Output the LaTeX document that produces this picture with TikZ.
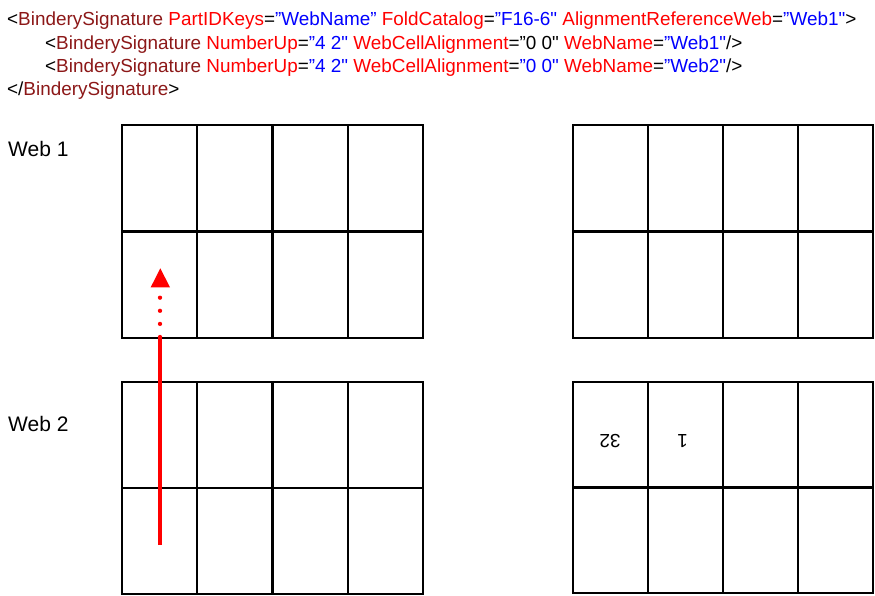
\documentclass[tikz,border=0pt]{standalone}
\usepackage{fontspec}
\setmainfont{Liberation Sans}[Ligatures=TeXOff]
\definecolor{xelc}{RGB}{140,24,24}
\definecolor{xatc}{RGB}{255,0,0}
\definecolor{xvac}{RGB}{0,0,255}
\newcommand\xel[1]{\textcolor{xelc}{#1}}
\newcommand\xat[1]{\textcolor{xatc}{#1}}
\newcommand\xva[1]{\textcolor{xvac}{#1}}
\begin{document}
\begin{tikzpicture}[x=1pt,y=-1pt,
  codeline/.style={anchor=base west,inner sep=0pt,font=\fontsize{18.9}{22}\selectfont},
  weblabel/.style={anchor=base west,inner sep=0pt,font=\fontsize{21}{24}\selectfont},
  cellL/.style={draw,line width=2.4pt,minimum width=75.25pt,minimum height=106.5pt,inner sep=0pt},
  cellLB/.style={draw,line width=2.4pt,minimum width=75.25pt,minimum height=106pt,inner sep=0pt},
  cellR/.style={draw,line width=2.4pt,minimum width=75pt,minimum height=106.5pt,inner sep=0pt},
  cellRB/.style={draw,line width=2.4pt,minimum width=75pt,minimum height=105.5pt,inner sep=0pt},
  pagenum/.style={rotate=180,inner sep=0pt,font=\fontsize{19}{21}\selectfont},
  redline/.style={draw=red,line width=4.3pt},
  reddots/.style={draw=red,line width=4.3pt,line cap=round,dash pattern=on 0pt off 13.1pt}]
\useasboundingbox (0,0) rectangle (875,596);
% code text
\node[codeline] (l1) at (7,26) {<\xel{BinderySignature} \xat{PartIDKeys}=\xva{”WebName”} \xat{FoldCatalog}=\xva{”F16-6"} \xat{AlignmentReferenceWeb}=\xva{”Web1"}>};
\node[codeline] (l2) at (45,49.3) {<\xel{BinderySignature} \xat{NumberUp}=\xva{”4 2"} \xat{WebCellAlignment}=”0 0" \xat{WebName}=\xva{”Web1"}/>};
\node[codeline] (l3) at (45,72.7) {<\xel{BinderySignature} \xat{NumberUp}=\xva{”4 2"} \xat{WebCellAlignment}=\xva{”0 0"} \xat{WebName}=\xva{”Web2"}/>};
\node[codeline] (l4) at (7,96) {</\xel{BinderySignature}>};
% labels
\node[weblabel] (w1) at (8,156.7) {Web 1};
\node[weblabel] (w2) at (8,431.7) {Web 2};
% grids
\foreach \i in {0,1,2,3}{
  \node[cellL] (lt1\i) at ({122+75.25*\i+37.625},178.25) {};
  \node[cellL] (lt2\i) at ({122+75.25*\i+37.625},284.75) {};
  \node[cellLB] (lb1\i) at ({122+75.25*\i+37.625},435) {};
  \node[cellLB] (lb2\i) at ({122+75.25*\i+37.625},541) {};
  \node[cellR] (rt1\i) at ({573+75*\i+37.5},178.25) {};
  \node[cellR] (rt2\i) at ({573+75*\i+37.5},284.75) {};
  \node[cellRB] (rb1\i) at ({573+75*\i+37.5},434.75) {};
  \node[cellRB] (rb2\i) at ({573+75*\i+37.5},540.25) {};
}
\node[pagenum] (p32) at (610,441.5) {32};
\node[pagenum] (p1) at (682.5,441.5) {1};
% red arrow
\coordinate (as) at (160,545);
\coordinate (ae) at (160,337);
\coordinate (ad) at (160,297.5);
\draw[redline] (as) -- (ae);
\draw[reddots] (ae) -- (ad);
\fill[red] (150.7,287.3) -- (170,287.3) -- (160.3,268.3) -- cycle;
\end{tikzpicture}
\end{document}
